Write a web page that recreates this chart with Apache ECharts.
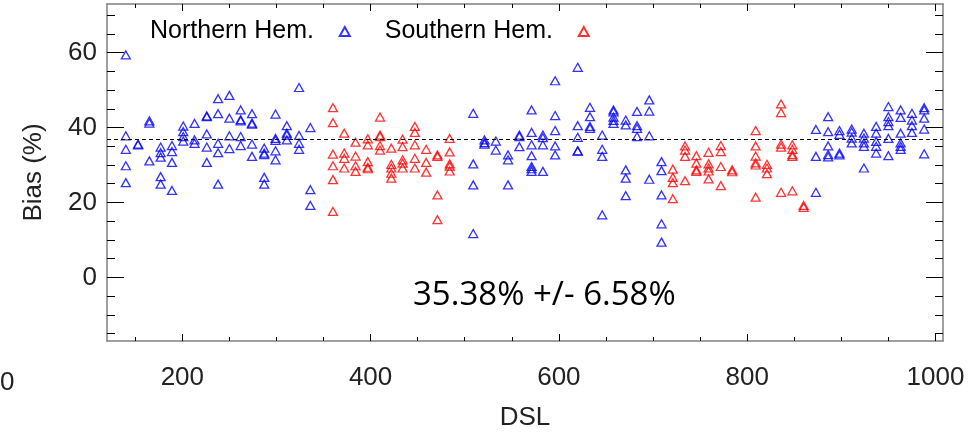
<!DOCTYPE html>
<html>
<head>
<meta charset="utf-8">
<script src="https://cdn.jsdelivr.net/npm/echarts@6/dist/echarts.min.js"></script>
<style>
  html, body { margin: 0; padding: 0; background: #fff; }
  #chart { width: 969px; height: 433px; }
</style>
</head>
<body>
<div id="chart"></div>
<script>
// DSL columns and the bias values
const northDSL = [140, 153, 165, 177, 189, 201, 213, 226, 238, 250, 262, 274, 287, 299, 311, 324, 336,
  509, 521, 533, 546, 558, 571, 583, 596, 620, 633, 646, 658, 671, 683, 696, 709,
  873, 886, 898, 911, 924, 937, 950, 963, 975, 988]
const northBias = [
  [59.4, 37.8, 34.2, 29.8, 25.3],
  [35.6, 35.4],
  [41.8, 41.2, 31.1],
  [34.8, 33.3, 32.1, 26.9, 24.9],
  [35.2, 33.6, 30.7, 23.2],
  [40.4, 38.9, 37.6, 36.4],
  [41.1, 36.7, 35.8],
  [43.1, 42.9, 38.3, 34.8, 30.7],
  [47.7, 43.7, 35.8, 33.3, 24.9],
  [48.6, 42.5, 37.8, 34.4],
  [44.7, 42.1, 41.8, 37.6, 35.2],
  [43.7, 41.2, 40.9, 35.6, 32.3],
  [34.5, 33.2, 32.8, 26.7, 24.9],
  [43.6, 37.1, 36.6, 33.8, 31.4],
  [40.5, 38.5, 38.0, 36.7],
  [50.7, 37.9, 35.8, 34.2],
  [40.0, 23.4, 19.2],
  [43.8, 30.3, 24.7, 11.7],
  [36.7, 36.0, 35.6],
  [36.4, 34.0],
  [32.7, 31.4, 24.7],
  [38.0, 37.6, 34.9],
  [44.7, 38.7, 35.4, 32.5, 29.6, 29.0, 28.3],
  [38.0, 37.3, 35.4, 28.3],
  [52.5, 43.2, 39.2, 35.1, 32.7],
  [56.1, 40.5, 37.4, 33.8, 33.7],
  [45.4, 42.9, 40.3, 39.8],
  [38.0, 34.2, 32.3, 16.7],
  [44.7, 44.2, 42.8, 41.9, 41.1],
  [42.0, 40.7, 28.7, 26.5, 21.8],
  [44.3, 40.5, 39.8, 37.6],
  [47.4, 44.4, 37.8, 26.2],
  [30.9, 28.5, 22.0, 14.3, 9.4],
  [39.5, 32.3, 22.7],
  [42.9, 38.9, 35.1, 32.8, 32.2],
  [39.2, 38.2, 33.2, 32.7],
  [39.6, 38.8, 37.2, 35.9],
  [38.5, 37.2, 35.9, 35.0, 29.2],
  [40.3, 38.5, 36.3, 35.0, 33.2],
  [45.6, 42.9, 41.6, 40.5, 37.1, 32.5],
  [44.7, 42.7, 38.5, 35.9, 35.0, 34.2],
  [43.8, 42.0, 40.5, 38.7],
  [45.3, 44.7, 42.5, 39.6, 33.0]
]

const southDSL = [360, 372, 384, 397, 410, 422, 434, 447, 459, 471, 484,
  721, 734, 746, 759, 772, 784, 809, 821, 836, 848, 860]
const southBias = [
  [45.3, 41.3, 32.9, 29.8, 26.1, 17.6],
  [38.5, 33.2, 31.8, 29.2],
  [36.1, 32.4, 29.8, 28.3],
  [37.0, 35.4, 30.9, 29.4, 29.0],
  [42.8, 38.0, 37.6, 35.2, 34.0],
  [34.5, 30.2, 29.2, 27.8, 26.5],
  [36.9, 34.9, 31.4, 30.5, 29.2],
  [40.3, 38.7, 35.4, 31.8, 29.2],
  [34.2, 30.7, 28.1],
  [32.7, 32.3, 22.0, 15.4],
  [37.1, 33.5, 30.3, 29.7, 28.4],
  [28.9, 26.7, 25.3, 21.0],
  [35.1, 34.0, 32.3, 25.8],
  [32.5, 30.5, 28.7, 28.3],
  [33.4, 30.3, 29.2, 28.4, 26.3],
  [35.2, 33.6, 29.6, 24.5],
  [28.7, 28.2],
  [39.2, 35.1, 32.4, 30.6, 30.0, 21.4],
  [30.2, 29.2, 27.7],
  [46.3, 44.0, 35.6, 34.8, 22.7],
  [35.4, 34.2, 32.8, 32.3, 23.1],
  [19.2, 18.7]
]

const meanLine = 36.8
const xMajor = [200, 400, 600, 800, 1000]
const xMinor = [150, 250, 300, 350, 450, 500, 550, 650, 700, 750, 850, 900, 950]
const yMajor = [0, 20, 40, 60]
const yMinor = [-15, -10, -5, 5, 10, 15, 25, 30, 35, 45, 50, 55, 65, 70]

const toPoints = (cols, vals) => cols.flatMap((x, i) => vals[i].map(v => [x, v]))

const font = 'Liberation Sans, Arial, Helvetica, sans-serif'
const frame = () => ({ show: true, onZero: false, lineStyle: { color: '#808080', width: 1.5 } })
const noLine = () => ({ show: false, onZero: false })
const tickStyle = (values, len) => ({
  show: true, inside: true, length: len, customValues: values.slice(),
  lineStyle: { color: '#000', width: 1 }
})

// one axis with labels and long ticks, the others only carry ticks / the frame
const tickAxis = (kind, position, values, len, line) => ({
  type: 'value', position,
  min: kind === 'x' ? 120 : -17,
  max: kind === 'x' ? 1008 : 73,
  axisLine: line ? frame() : noLine(),
  axisTick: tickStyle(values, len),
  axisLabel: { show: false },
  splitLine: { show: false }
})

const labelStyle = values => ({
  customValues: values.slice(), formatter: v => String(v),
  color: '#222', fontSize: 26, fontFamily: font
})

const hollow = color => ({ color: 'rgba(255,255,255,0)', borderColor: color, borderWidth: 1.3 })

const chart = echarts.init(document.getElementById('chart'))
chart.setOption({
  animation: false,
  grid: { left: 107, right: 26, top: 4, bottom: 92, containLabel: false, outerBoundsMode: 'none' },
  legend: {
    left: 145, top: 14, align: 'right', itemGap: 34,
    itemWidth: 10, itemHeight: 9,
    formatter: name => name + '   ',
    textStyle: { color: '#000', fontSize: 25, fontFamily: font },
    data: ['Northern Hem.', 'Southern Hem.']
  },
  xAxis: [
    {
      type: 'value', min: 120, max: 1008, position: 'bottom',
      axisLine: frame(),
      axisTick: tickStyle(xMajor, 7),
      axisLabel: Object.assign(labelStyle(xMajor), { margin: 24 }),
      splitLine: { show: false },
      name: 'DSL', nameLocation: 'middle', nameGap: 64,
      nameTextStyle: { color: '#222', fontSize: 26, fontFamily: font }
    },
    tickAxis('x', 'bottom', xMinor, 4, false),
    tickAxis('x', 'top', xMajor, 7, true),
    tickAxis('x', 'top', xMinor, 4, false)
  ],
  yAxis: [
    {
      type: 'value', min: -17, max: 73, position: 'left',
      axisLine: frame(),
      axisTick: tickStyle(yMajor, 17),
      axisLabel: Object.assign(labelStyle(yMajor), { margin: 10 }),
      splitLine: { show: false },
      name: 'Bias (%)', nameLocation: 'middle', nameGap: 60, nameRotate: 90,
      nameTextStyle: { color: '#222', fontSize: 26, fontFamily: font }
    },
    tickAxis('y', 'left', yMinor, 8, false),
    tickAxis('y', 'right', yMajor, 17, true),
    tickAxis('y', 'right', yMinor, 8, false)
  ],
  graphic: [
    { type: 'text', left: 413, top: 279, style: { text: '35.38% +/- 6.58%', fill: '#000', font: '33px "Open Sans", sans-serif' } },
    { type: 'text', left: 0, top: 370, style: { text: '0', fill: '#222', font: '26px ' + font } }
  ],
  series: [
    {
      name: 'Northern Hem.', type: 'scatter', symbol: 'triangle', symbolSize: [9, 8],
      data: toPoints(northDSL, northBias),
      itemStyle: hollow('#0000ff'),
      markLine: {
        silent: true, symbol: 'none', label: { show: false },
        lineStyle: { color: '#000', type: [4, 3], width: 1 },
        data: [{ yAxis: meanLine }]
      }
    },
    {
      name: 'Southern Hem.', type: 'scatter', symbol: 'triangle', symbolSize: [9, 8],
      data: toPoints(southDSL, southBias),
      itemStyle: hollow('#ff0000')
    }
  ]
})
</script>
</body>
</html>
